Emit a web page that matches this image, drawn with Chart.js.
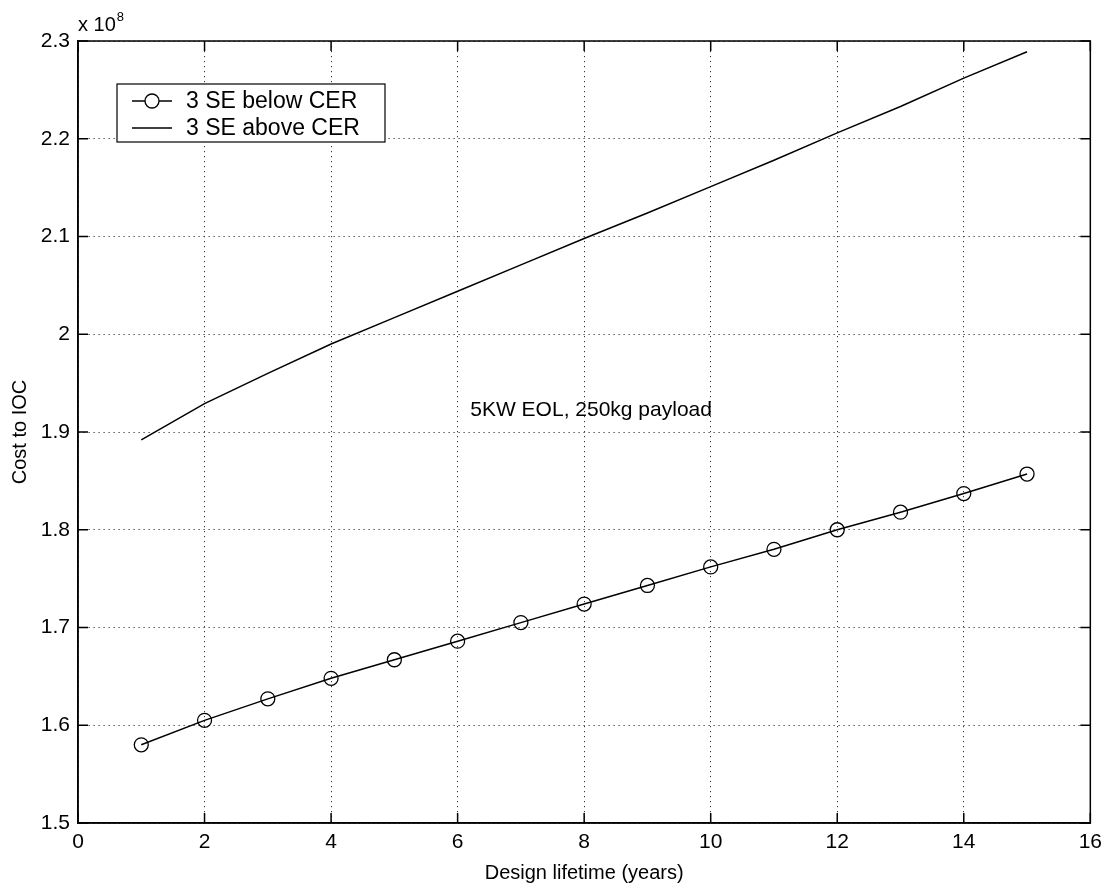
<!DOCTYPE html>
<html>
<head>
<meta charset="utf-8">
<script src="https://cdn.jsdelivr.net/npm/chart.js@4"></script>
<style>
  body { margin: 0; background: #fff; }
  #wrap { width: 1109px; height: 888px; position: relative; }
</style>
</head>
<body>
<div id="wrap"><canvas id="costChart"></canvas></div>
<script>
// design lifetime in years
const lifetimes = [1, 2, 3, 4, 5, 6, 7, 8, 9, 10, 11, 12, 13, 14, 15];
// cost to IOC, in units of 10^8
const belowCER = [1.580, 1.605, 1.627, 1.648, 1.667, 1.686, 1.705, 1.724, 1.743, 1.762, 1.780, 1.800, 1.818, 1.837, 1.857];
const aboveCER = [1.892, 1.929, 1.960, 1.990, 2.017, 2.044, 2.071, 2.098, 2.124, 2.151, 2.178, 2.206, 2.233, 2.262, 2.289];
const seriesNames = ['3 SE below CER', '3 SE above CER'];
const noteText = '5KW EOL, 250kg payload';
const notePos = { x: 6.2, y: 1.922 };

const FONT = "'Liberation Sans', Arial, Helvetica, sans-serif";

function toPoints(xs, ys) {
    return xs.map((x, i) => ({ x: x, y: ys[i] }));
}

// box, inward ticks, legend, note, exponent label
const matlabDecor = {
    id: 'matlabDecor',
    afterDatasetsDraw(chart) {
        const ctx = chart.ctx;
        const a = chart.chartArea;
        const xs = chart.scales.x, ys = chart.scales.y;
        ctx.save();
        ctx.strokeStyle = '#000';
        ctx.lineWidth = 1.5;
        ctx.strokeRect(a.left, a.top, a.right - a.left, a.bottom - a.top);

        // inward tick marks on all four sides
        const tl = 10;
        ctx.beginPath();
        xs.ticks.forEach(t => {
            const px = xs.getPixelForValue(t.value);
            ctx.moveTo(px, a.bottom); ctx.lineTo(px, a.bottom - tl);
            ctx.moveTo(px, a.top); ctx.lineTo(px, a.top + tl);
        });
        ys.ticks.forEach(t => {
            const py = ys.getPixelForValue(t.value);
            ctx.moveTo(a.left, py); ctx.lineTo(a.left + tl, py);
            ctx.moveTo(a.right, py); ctx.lineTo(a.right - tl, py);
        });
        ctx.stroke();

        // text note inside the plot
        ctx.fillStyle = '#000';
        ctx.font = '21px ' + FONT;
        ctx.textAlign = 'left';
        ctx.textBaseline = 'middle';
        ctx.fillText(noteText, xs.getPixelForValue(notePos.x), ys.getPixelForValue(notePos.y));

        // legend box
        const lx = a.left + 39, ly = a.top + 43, lw = 268, lh = 58;
        ctx.fillStyle = '#fff';
        ctx.fillRect(lx, ly, lw, lh);
        ctx.lineWidth = 1.2;
        ctx.strokeRect(lx, ly, lw, lh);
        const rows = [ly + 17, ly + 44];
        chart.data.datasets.forEach((ds, i) => {
            const ry = rows[i];
            ctx.strokeStyle = '#000';
            ctx.lineWidth = 1.3;
            ctx.beginPath();
            ctx.moveTo(lx + 15, ry); ctx.lineTo(lx + 55, ry);
            ctx.stroke();
            if (ds.pointRadius > 0) {
                ctx.beginPath();
                ctx.arc(lx + 35, ry, ds.pointRadius, 0, Math.PI * 2);
                ctx.fillStyle = '#fff';
                ctx.fill();
                ctx.stroke();
            }
            ctx.fillStyle = '#000';
            ctx.font = '23px ' + FONT;
            ctx.textBaseline = 'middle';
            ctx.fillText(ds.label, lx + 69, ry + 1);
        });

        // x 10^8 exponent label
        ctx.font = '20px ' + FONT;
        ctx.textBaseline = 'alphabetic';
        ctx.fillText('x 10', a.left, a.top - 10);
        const w = ctx.measureText('x 10').width;
        ctx.font = '13px ' + FONT;
        ctx.fillText('8', a.left + w + 1, a.top - 20);
        ctx.restore();
    }
};

new Chart(document.getElementById('costChart'), {
    type: 'line',
    data: {
        datasets: [
            {
                label: seriesNames[0],
                data: toPoints(lifetimes, belowCER),
                borderColor: '#000',
                borderWidth: 1.5,
                pointRadius: 7,
                pointBorderWidth: 1.3,
                pointBorderColor: '#000',
                pointBackgroundColor: 'rgba(0,0,0,0)',
                tension: 0
            },
            {
                label: seriesNames[1],
                data: toPoints(lifetimes, aboveCER),
                borderColor: '#000',
                borderWidth: 1.5,
                pointRadius: 0,
                tension: 0
            }
        ]
    },
    options: {
        responsive: true,
        maintainAspectRatio: false,
        animation: false,
        events: [],
        layout: { padding: { top: 41, right: 16, left: 0, bottom: 0 } },
        plugins: {
            legend: { display: false },
            tooltip: { enabled: false }
        },
        scales: {
            x: {
                type: 'linear',
                min: 0,
                max: 16,
                ticks: {
                    stepSize: 2,
                    color: '#000',
                    padding: 7,
                    font: { family: FONT, size: 21 }
                },
                grid: { color: '#333', lineWidth: 1, drawTicks: false },
                border: { display: true, color: '#000', width: 1.5, dash: [1.2, 3.8] },
                title: {
                    display: true,
                    text: 'Design lifetime (years)',
                    color: '#000',
                    font: { family: FONT, size: 20 },
                    padding: { top: 0, bottom: 3 }
                },
                afterFit(scale) { scale.height = 65; }
            },
            y: {
                min: 1.5,
                max: 2.3,
                ticks: {
                    stepSize: 0.1,
                    color: '#000',
                    padding: 8,
                    font: { family: FONT, size: 21 },
                    callback: v => String(+v.toFixed(1))
                },
                grid: { color: '#333', lineWidth: 1, drawTicks: false },
                border: { display: true, color: '#000', width: 1.5, dash: [1.2, 3.8] },
                title: {
                    display: true,
                    text: 'Cost to IOC',
                    color: '#000',
                    font: { family: FONT, size: 20 },
                    padding: { top: 8, bottom: 0 }
                },
                afterFit(scale) { scale.width = 78; }
            }
        }
    },
    plugins: [matlabDecor]
});
</script>
</body>
</html>
